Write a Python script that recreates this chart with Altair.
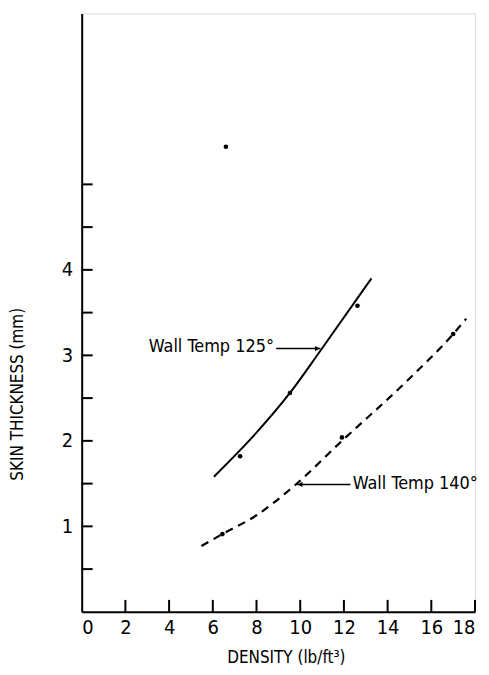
import altair as alt
import pandas as pd

FONT = "DejaVu Sans Condensed, Liberation Sans Narrow, sans-serif"

# fitted curves
c125_x = [6.05, 7.8, 9.53, 10.94, 13.26]
c125_y = [1.58, 2.04, 2.56, 3.06, 3.90]
c140_x = [5.48, 6.44, 8.0, 9.71, 11.91, 14.8, 17.0, 17.6]
c140_y = [0.77, 0.91, 1.13, 1.47, 2.00, 2.68, 3.25, 3.43]

# measured points
pts_x = [7.25, 9.53, 12.62, 6.44, 11.91, 17.0, 6.6]
pts_y = [1.82, 2.56, 3.58, 0.91, 2.04, 3.25, 5.44]

# ticks
xtick_vals = [2, 4, 6, 8, 10, 12, 14, 16, 18]
xlabel_vals = [0, 2, 4, 6, 8, 10, 12, 14, 16, 18]
ytick_vals = [0.5, 1, 1.5, 2, 2.5, 3, 3.5, 4, 4.5, 5]
ylabel_vals = [1, 2, 3, 4]

# annotations
lab_text = ["Wall Temp 125°", "Wall Temp 140°"]
lab_x = [8.8, 12.4]
lab_y = [3.1, 1.5]
lab_align = ["right", "left"]
arr_x1 = [8.9, 12.3]
arr_x2 = [10.92, 9.86]
arr_y = [3.08, 1.49]

xs = alt.Scale(domain=[0, 18], nice=False, zero=False)
ys = alt.Scale(domain=[0, 7], nice=False, zero=False)

xax = alt.Axis(values=xlabel_vals, format="d", tickSize=0, labelPadding=6,
               domainWidth=2, domainColor="black", labelFont=FONT, labelFontSize=20,
               labelColor="black", title="DENSITY (lb/ft³)", titleFont=FONT,
               titleFontSize=17, titleFontWeight="normal", titleColor="black",
               titleX=205, titleY=46, titleBaseline="middle", grid=False)
yax = alt.Axis(values=ylabel_vals, format="d", tickSize=0, labelPadding=9,
               domainWidth=2, domainColor="black", labelFont=FONT, labelFontSize=20,
               labelColor="black", title="SKIN THICKNESS (mm)", titleFont=FONT,
               titleFontSize=17, titleFontWeight="normal", titleColor="black",
               titleX=-64, titleY=382, titleAngle=270, titleAlign="center",
               titleBaseline="middle", grid=False)

df125 = pd.DataFrame({"x": c125_x, "y": c125_y})
df140 = pd.DataFrame({"x": c140_x, "y": c140_y})
dfp = pd.DataFrame({"x": pts_x, "y": pts_y})
dfxt = pd.DataFrame({"x": xtick_vals, "y": [0] * len(xtick_vals)})
dfyt = pd.DataFrame({"y": ytick_vals, "x": [0] * len(ytick_vals)})
dflab = pd.DataFrame({"t": lab_text, "x": lab_x, "y": lab_y, "a": lab_align})
dfarr = pd.DataFrame({"x1": arr_x1, "x2": arr_x2, "y": arr_y})

base_axes = alt.Chart(df125).mark_line(stroke="black", strokeWidth=2, interpolate="monotone").encode(
    x=alt.X("x:Q", scale=xs, axis=xax),
    y=alt.Y("y:Q", scale=ys, axis=yax),
)
line140 = alt.Chart(df140).mark_line(stroke="black", strokeWidth=2.2, interpolate="monotone",
                                     strokeDash=[8, 6]).encode(
    x=alt.X("x:Q", scale=xs), y=alt.Y("y:Q", scale=ys))
points = alt.Chart(dfp).mark_circle(color="black", size=22, opacity=1).encode(
    x=alt.X("x:Q", scale=xs), y=alt.Y("y:Q", scale=ys))
xticks = alt.Chart(dfxt).mark_rule(color="black", strokeWidth=2, y2Offset=-12).encode(
    x=alt.X("x:Q", scale=xs), y=alt.Y("y:Q", scale=ys), y2="y:Q")
yticks = alt.Chart(dfyt).mark_rule(color="black", strokeWidth=2, x2Offset=11).encode(
    x=alt.X("x:Q", scale=xs), x2="x:Q", y=alt.Y("y:Q", scale=ys))
lab_r = alt.Chart(dflab).transform_filter(alt.datum.a == "right").mark_text(
    font=FONT, fontSize=18, align="right", baseline="middle", color="black").encode(
    x=alt.X("x:Q", scale=xs), y=alt.Y("y:Q", scale=ys), text="t:N")
lab_l = alt.Chart(dflab).transform_filter(alt.datum.a == "left").mark_text(
    font=FONT, fontSize=18, align="left", baseline="middle", color="black").encode(
    x=alt.X("x:Q", scale=xs), y=alt.Y("y:Q", scale=ys), text="t:N")
arrows = alt.Chart(dfarr).mark_rule(color="black", strokeWidth=1.5).encode(
    x=alt.X("x1:Q", scale=xs), x2="x2:Q", y=alt.Y("y:Q", scale=ys))
head_r = alt.Chart(dfarr).transform_filter(alt.datum.x2 > alt.datum.x1).mark_point(
    shape="triangle-right", filled=True, color="black", size=28, opacity=1, xOffset=-3).encode(
    x=alt.X("x2:Q", scale=xs), y=alt.Y("y:Q", scale=ys))
head_l = alt.Chart(dfarr).transform_filter(alt.datum.x2 < alt.datum.x1).mark_point(
    shape="triangle-left", filled=True, color="black", size=28, opacity=1, xOffset=3).encode(
    x=alt.X("x2:Q", scale=xs), y=alt.Y("y:Q", scale=ys))

chart = alt.layer(base_axes, line140, points, xticks, yticks, arrows, head_r, head_l,
                  lab_r, lab_l).properties(
    width=395, height=601,
    autosize=alt.AutoSizeParams(type="none"),
    padding={"left": 74, "top": 4, "right": 6, "bottom": 60},
).configure_view(stroke=None).configure(background="white")

chart.save("out.html", embed_options={"renderer": "svg", "actions": False})
